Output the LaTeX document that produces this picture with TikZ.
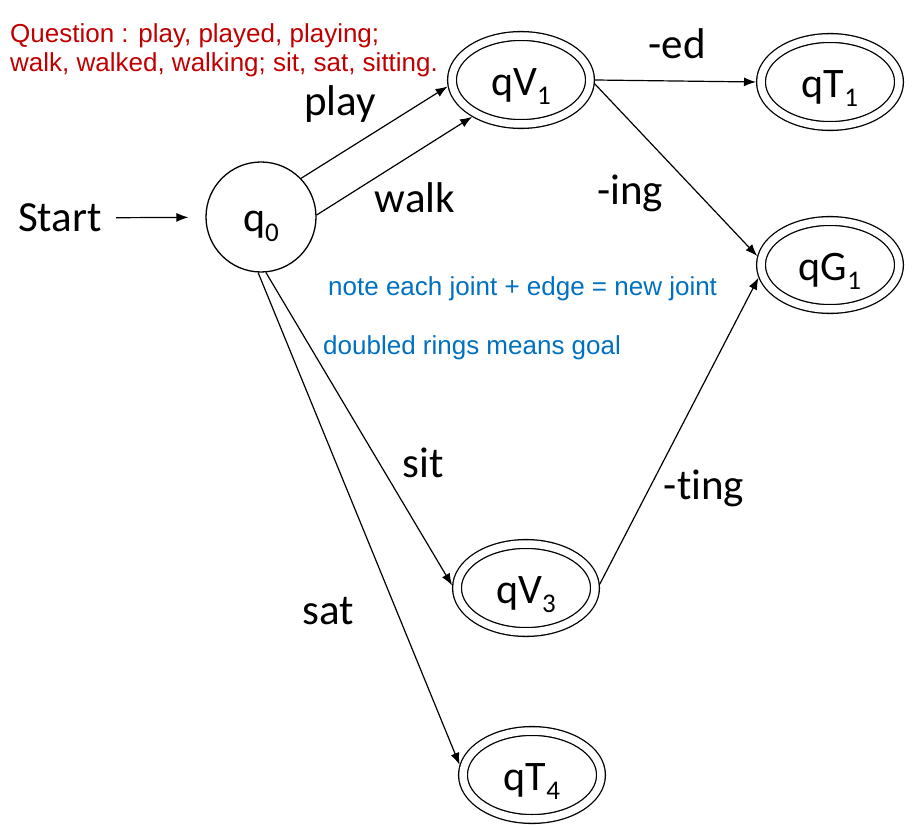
\documentclass[tikz,border=0pt]{standalone}
\usepackage{fontspec}
\setmainfont{Carlito}[Ligatures=CommonOff]
\newfontfamily\arialf{Liberation Sans}
\usetikzlibrary{shapes.geometric,arrows.meta}
\definecolor{qred}{RGB}{192,0,0}
\definecolor{nblue}{RGB}{0,112,192}
\newcommand{\lowsub}[1]{\raisebox{-0.22em}{\fontsize{27}{27}\selectfont #1}}
\begin{document}
\begin{tikzpicture}[x=1pt,y=-1pt,
  lbl/.style={font=\fontsize{43}{50}\selectfont, inner sep=0},
  goal/.style={ellipse, draw, line width=1.3pt, double, double distance=7.5pt,
    minimum width=138pt, minimum height=88pt, inner sep=0, outer sep=5pt,
    text height=31pt, text depth=0pt,
    font=\fontsize{42}{50}\selectfont},
  stateq/.style={circle, draw, line width=1.3pt, minimum size=110pt, inner sep=0,
    outer sep=0.6pt, text height=30pt, text depth=0pt,
    font=\fontsize{42}{50}\selectfont},
  edge/.style={line width=1.2pt, -{Latex[length=12pt,width=9pt]}},
  note/.style={font=\arialf\fontsize{26}{30}\selectfont, inner sep=0, anchor=base west}
]
\useasboundingbox (0,0) rectangle (921,826);

% states
\node[stateq] (q0) at (261,217) {q\lowsub{0}};
\node[goal] (qV1) at (521,80) {qV\lowsub{1}};
\node[goal] (qT1) at (830,82) {qT\lowsub{1}};
\node[goal] (qG1) at (830,265) {qG\lowsub{1}};
\node[goal] (qV3) at (526,588) {qV\lowsub{3}};
\node[goal] (qT4) at (532,775) {qT\lowsub{4}};

% start
\node[lbl] (start) at (60,218) {Start};
\draw[edge, shorten <=14pt, shorten >=17pt] (start) -- (q0);

% edges
\draw[edge] (q0.44) -- (qV1.185);
\draw[edge] (q0.2) -- (qV1.217);
\draw[edge] (qV1.east) -- (qT1.west);
\draw[edge] (qV1.-3) -- (qG1.173);
\draw[edge] (qV3.3) -- (qG1.190);
\draw[edge] (q0.-85) -- (qV3.178);
\draw[edge] (q0.-93) -- (qT4.172);

% edge labels
\node[lbl] (lplay) at (340,104) {play};
\node[lbl] (lwalk) at (415,198) {walk};
\node[lbl] (led) at (677,44) {-ed};
\node[lbl] (ling) at (630,193) {-ing};
\node[lbl] (lsit) at (423,463) {sit};
\node[lbl] (lting) at (704,488) {-ting};
\node[lbl] (lsat) at (328,611) {sat};

% question text
\node[note, text=qred] (ques1) at (10,43) {Question : play, played, playing;};
\node[note, text=qred] (ques2) at (10,72) {walk, walked, walking; sit, sat, sitting.};

% notes
\node[note, text=nblue] (note1) at (328,296) {note each joint + edge = new joint};
\node[note, text=nblue] (note2) at (323,354) {doubled rings means goal};
\end{tikzpicture}
\end{document}
